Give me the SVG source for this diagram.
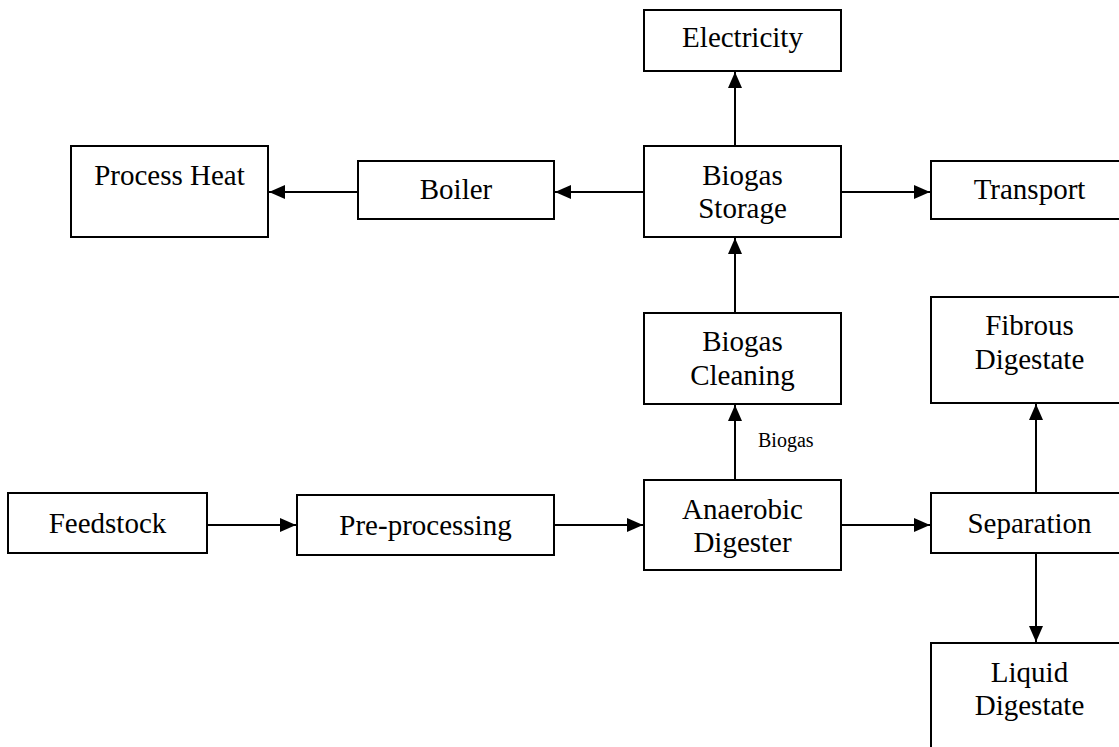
<svg xmlns="http://www.w3.org/2000/svg" width="1119" height="747" viewBox="0 0 1119 747">
<style>
.box{fill:#fff;stroke:#000;stroke-width:2}
.t{font-family:"Liberation Serif","Times New Roman",serif;font-size:29px;fill:#000;text-anchor:middle}
.lbl{font-family:"Liberation Serif","Times New Roman",serif;font-size:20px;fill:#000}
.c{stroke:#000;stroke-width:2;fill:none;marker-end:url(#ah)}
</style>
<defs>
<marker id="ah" markerWidth="16" markerHeight="14" refX="16" refY="7" orient="auto" markerUnits="userSpaceOnUse">
<path d="M0,0 L16,7 L0,14 Z" fill="#000"/>
</marker>
</defs>
<rect width="1119" height="747" fill="#fff"/>
<g id="connectors">
<line class="c" x1="735" y1="146" x2="735" y2="72"/>
<line class="c" x1="644" y1="192" x2="555" y2="192"/>
<line class="c" x1="358" y1="192" x2="269" y2="192"/>
<line class="c" x1="841" y1="192" x2="930" y2="192"/>
<line class="c" x1="735" y1="313" x2="735" y2="238"/>
<line class="c" x1="735" y1="480" x2="735" y2="405"/>
<text class="lbl" x="758" y="447">Biogas</text>
<line class="c" x1="207" y1="525" x2="296" y2="525"/>
<line class="c" x1="554" y1="525" x2="643" y2="525"/>
<line class="c" x1="841" y1="525" x2="930" y2="525"/>
<line class="c" x1="1036" y1="493" x2="1036" y2="404"/>
<line class="c" x1="1036" y1="553" x2="1036" y2="642"/>
</g>
<g id="electricity"><rect class="box" x="644" y="10" width="197" height="61"/><text class="t" x="742.5" y="47">Electricity</text></g>
<g id="process-heat"><rect class="box" x="71" y="146" width="197" height="91"/><text class="t" x="169.5" y="185">Process Heat</text></g>
<g id="boiler"><rect class="box" x="358" y="161" width="196" height="58"/><text class="t" x="456" y="199">Boiler</text></g>
<g id="biogas-storage"><rect class="box" x="644" y="146" width="197" height="91"/><text class="t" x="742.5" y="185">Biogas</text><text class="t" x="742.5" y="218">Storage</text></g>
<g id="transport"><rect class="box" x="931" y="161" width="197" height="58"/><text class="t" x="1029.5" y="199">Transport</text></g>
<g id="biogas-cleaning"><rect class="box" x="644" y="313" width="197" height="91"/><text class="t" x="742.5" y="351">Biogas</text><text class="t" x="742.5" y="385">Cleaning</text></g>
<g id="fibrous-digestate"><rect class="box" x="931" y="297" width="197" height="106"/><text class="t" x="1029.5" y="335">Fibrous</text><text class="t" x="1029.5" y="369">Digestate</text></g>
<g id="feedstock"><rect class="box" x="8" y="493" width="199" height="60"/><text class="t" x="107.5" y="533">Feedstock</text></g>
<g id="pre-processing"><rect class="box" x="297" y="495" width="257" height="60"/><text class="t" x="425.5" y="535">Pre-processing</text></g>
<g id="anaerobic-digester"><rect class="box" x="644" y="480" width="197" height="90"/><text class="t" x="742.5" y="519">Anaerobic</text><text class="t" x="742.5" y="552">Digester</text></g>
<g id="separation"><rect class="box" x="931" y="493" width="197" height="60"/><text class="t" x="1029.5" y="533">Separation</text></g>
<g id="liquid-digestate"><rect class="box" x="931" y="643" width="197" height="110"/><text class="t" x="1029.5" y="682">Liquid</text><text class="t" x="1029.5" y="715">Digestate</text></g>
</svg>
